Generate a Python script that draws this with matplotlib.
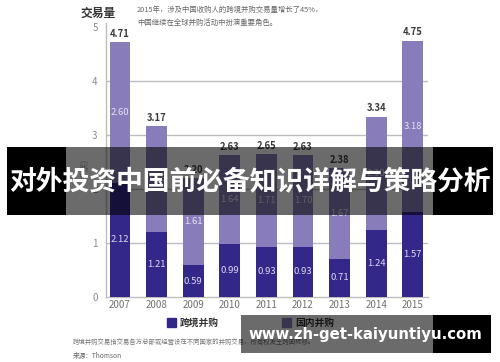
import matplotlib
matplotlib.use("Agg")
import matplotlib.pyplot as plt
from matplotlib.patches import Rectangle
import numpy as np

plt.rcParams['font.family'] = ['Noto Sans CJK SC', 'DejaVu Sans']

years = ['2007', '2008', '2009', '2010', '2011', '2012', '2013', '2014', '2015']
cross_border = [2.12, 1.21, 0.59, 0.99, 0.93, 0.93, 0.71, 1.24, 1.57]
domestic = [2.60, 1.96, 1.61, 1.64, 1.71, 1.70, 1.67, 2.10, 3.18]
totals = [4.71, 3.17, 2.20, 2.63, 2.65, 2.63, 2.38, 3.34, 4.75]
yticks = [0, 1, 2, 3, 4, 5]
series_names = ['跨境并购', '国内并购']

DARK = '#33288a'
LIGHT = '#897cba'

W, H = 500, 362
fig = plt.figure(figsize=(W / 100, H / 100), dpi=100)
fig.patch.set_facecolor('white')

def fx(x):
    return x / W

def fy(y):
    return 1 - y / H

# axes: x pixel 106..428, y pixel 297 (0) .. 22.7 (5.08)
ax = fig.add_axes([fx(106), fy(297), (428 - 106) / W, (297 - 22.7) / H])
ax.set_xlim(-0.383, 8.415)
ax.set_ylim(0, 5.08)
x = np.arange(len(years))
bw = 0.57
ax.bar(x, cross_border, bw, color=DARK, zorder=3)
ax.bar(x, domestic, bw, bottom=cross_border, color=LIGHT, zorder=3)

for i in range(len(years)):
    ax.text(x[i], cross_border[i] / 2, f'{cross_border[i]:.2f}', ha='center', va='center',
            color='#dcd8ee', fontsize=6.8, zorder=4)
    ax.text(x[i], cross_border[i] + domestic[i] / 2, f'{domestic[i]:.2f}', ha='center', va='center',
            color='#e6e2f4', fontsize=6.8, zorder=4)
    ax.text(x[i], totals[i] + 0.06, f'{totals[i]:.2f}', ha='center', va='bottom',
            color='#3a3a3a', fontsize=6.8, fontweight='bold', zorder=4)

ax.set_yticks(yticks)
ax.set_yticklabels([str(t) for t in yticks], color='#8a8a8a', fontsize=7)
ax.set_xticks(x)
ax.set_xticklabels(years, color='#707070', fontsize=7)
ax.tick_params(axis='both', length=0)
ax.tick_params(axis='y', pad=6)
ax.tick_params(axis='x', pad=2)
for t in yticks[1:-1]:
    ax.axhline(t, color='#bdbdbd', lw=1.0, zorder=1)
for s in ['top', 'right']:
    ax.spines[s].set_visible(False)
ax.spines['left'].set_color('#bdbdbd')
ax.spines['bottom'].set_color('#bdbdbd')
ax.spines['left'].set_linewidth(1.0)
ax.spines['bottom'].set_linewidth(1.0)
ax.set_facecolor('none')

# rotated unit label (mostly hidden under banner)
fig.text(fx(80), fy(165), '（千宗）', rotation=90, ha='center', va='center', color='#999999', fontsize=6)

# title and subtitle
fig.text(fx(80), fy(13), '交易量', ha='left', va='center', color='#333333', fontsize=8.5, fontweight='bold')
fig.text(fx(137), fy(10), '2015年，涉及中国收购人的跨境并购交易量增长了45%，', ha='left', va='center',
         color='#666666', fontsize=5.3)
fig.text(fx(137), fy(22.5), '中国继续在全球并购活动中扮演重要角色。', ha='left', va='center',
         color='#666666', fontsize=5.3)

# legend
fig.add_artist(Rectangle((fx(167), fy(327)), 8.5 / W, 9 / H, transform=fig.transFigure, color=DARK))
fig.text(fx(180), fy(322.5), series_names[0], ha='left', va='center', color='#333333', fontsize=7, fontweight='bold')
fig.add_artist(Rectangle((fx(282), fy(327)), 8.5 / W, 9 / H, transform=fig.transFigure, color=LIGHT))
fig.text(fx(295), fy(322.5), series_names[1], ha='left', va='center', color='#333333', fontsize=7, fontweight='bold')

# footnotes
fig.text(fx(73), fy(342), '跨境并购交易指交易各方总部或经营设在不同国家的并购交易，所有权发生跨国转移。',
         ha='left', va='center', color='#777777', fontsize=4.6)
fig.text(fx(73), fy(356), '来源：Thomson', ha='left', va='center', color='#666666', fontsize=4.8)

# banner overlay
def rect(x0, y0, x1, y1, color, alpha):
    fig.add_artist(Rectangle((fx(x0), fy(y1)), (x1 - x0) / W, (y1 - y0) / H,
                             transform=fig.transFigure, color=color, alpha=alpha, lw=0, zorder=10))

rect(7, 147, 66, 215, 'black', 1.0)
rect(66, 147, 433, 215, 'black', 0.58)
rect(433, 147, 493, 215, 'black', 1.0)
fig.text(0.5, fy(181), '对外投资中国前必备知识详解与策略分析', ha='center', va='center', color='white',
         fontsize=19.3, fontweight='bold', zorder=11)

# watermark overlay
rect(241, 315, 433, 353, 'black', 0.58)
rect(433, 315, 491, 353, 'black', 1.0)
fig.text(fx(365), fy(335), 'www.zh-get-kaiyuntiyu.com', ha='center', va='center', color='white',
         fontsize=10.7, fontweight='bold', family='DejaVu Sans', zorder=11)

fig.savefig('out.png', dpi=100, facecolor='white')
